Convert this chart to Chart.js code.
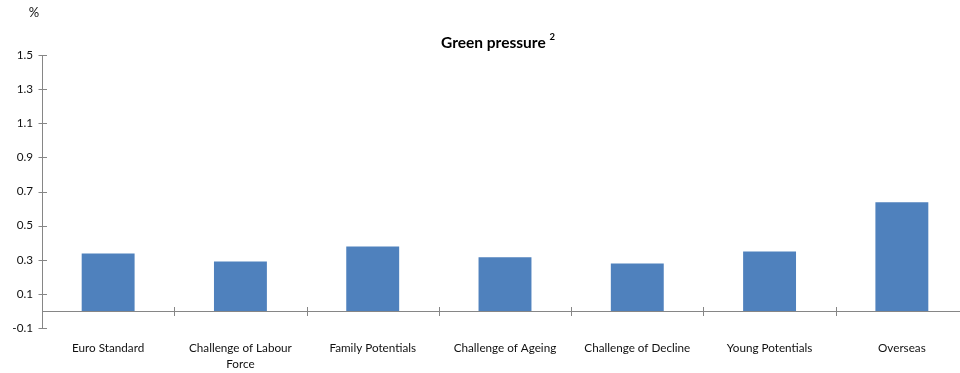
<!DOCTYPE html>
<html>
<head>
<meta charset="utf-8">
<script src="https://cdn.jsdelivr.net/npm/chart.js@4"></script>
<style>
  html, body { margin: 0; padding: 0; background: #fff; overflow: hidden; width: 960px; height: 373px; }
  #wrap { position: relative; width: 996px; height: 373px; }
</style>
</head>
<body>
<div id="wrap"><canvas id="c" width="996" height="373"></canvas></div>
<script>
// Scenario categories (multi-line where the label wraps)
const categories = [
  'Euro Standard',
  ['Challenge of Labour', 'Force'],
  'Family Potentials',
  'Challenge of Ageing',
  'Challenge of Decline',
  'Young Potentials',
  'Overseas'
];
// Green pressure, %
const greenPressure = [0.337, 0.29, 0.378, 0.314, 0.278, 0.349, 0.637];
const yMin = -0.1, yMax = 1.5, yStep = 0.2;
const chartTitle = 'Green pressure';
const titleNote = '2';
const unitLabel = '%';

const axisGrey = '#868686';
const textColor = '#111';
const fontFamily = 'Lato, "Open Sans", sans-serif';

// Axis line at zero with crossing tick marks, y-axis crossing ticks, title and unit
const decorations = {
  id: 'decorations',
  afterDatasetsDraw(chart) {
    const { ctx, scales: { x, y }, chartArea } = chart;
    ctx.save();
    ctx.strokeStyle = axisGrey;
    ctx.lineWidth = 1;
    const y0 = Math.round(y.getPixelForValue(0)) + 0.5;
    // horizontal axis line at zero
    ctx.beginPath();
    ctx.moveTo(chartArea.left, y0);
    ctx.lineTo(chartArea.right, y0);
    ctx.stroke();
    // category boundary ticks
    const n = chart.data.labels.length;
    const half = (x.getPixelForTick(1) - x.getPixelForTick(0)) / 2;
    for (let i = 0; i <= n; i++) {
      const px = Math.round(x.getPixelForTick(0) - half + i * 2 * half) + 0.5;
      ctx.beginPath();
      ctx.moveTo(px, y0 - 4.5);
      ctx.lineTo(px, y0 + 4.5);
      ctx.stroke();
    }
    // y ticks crossing the vertical axis
    const ax = Math.round(chartArea.left) + 0.5;
    y.ticks.forEach(t => {
      const py = Math.round(y.getPixelForValue(t.value)) + 0.5;
      ctx.beginPath();
      ctx.moveTo(ax - 4, py);
      ctx.lineTo(ax + 4.5, py);
      ctx.stroke();
    });
    ctx.restore();
  },
  afterDraw(chart) {
    const { ctx } = chart;
    ctx.save();
    ctx.fillStyle = '#000';
    ctx.textBaseline = 'middle';
    // title with raised note number
    ctx.font = 'bold 15.5px ' + fontFamily;
    const w1 = ctx.measureText(chartTitle + ' ').width;
    ctx.font = 'bold 9.5px ' + fontFamily;
    const w2 = ctx.measureText(titleNote).width;
    const cx = 498;
    const start = cx - (w1 + w2) / 2;
    ctx.textAlign = 'left';
    ctx.font = 'bold 15.5px ' + fontFamily;
    ctx.fillText(chartTitle, start, 42.5);
    ctx.font = 'bold 9.5px ' + fontFamily;
    ctx.fillText(titleNote, start + w1, 37);
    // unit label
    ctx.font = '13px ' + fontFamily;
    ctx.textAlign = 'center';
    ctx.fillStyle = textColor;
    ctx.fillText(unitLabel, 34, 12.5);
    ctx.restore();
  }
};

new Chart(document.getElementById('c'), {
  type: 'bar',
  data: {
    labels: categories,
    datasets: [{
      data: greenPressure,
      backgroundColor: '#4F81BD',
      borderWidth: 0,
      categoryPercentage: 1,
      barPercentage: 0.4
    }]
  },
  options: {
    responsive: false,
    animation: false,
    devicePixelRatio: 1,
    layout: { padding: { top: 55, right: 28, left: 0, bottom: 0 } },
    plugins: {
      legend: { display: false },
      title: { display: false },
      tooltip: { enabled: false }
    },
    scales: {
      x: {
        position: 'bottom',
        grid: { display: false, drawTicks: false },
        border: { display: false },
        ticks: {
          color: textColor,
          font: { family: fontFamily, size: 11.7, lineHeight: 1.37 },
          padding: 12,
          maxRotation: 0,
          autoSkip: false
        },
        afterFit(scale) { scale.height = 45; }
      },
      y: {
        min: yMin,
        max: yMax,
        grid: { display: false, drawTicks: false },
        border: { display: true, color: axisGrey, width: 1 },
        ticks: {
          stepSize: yStep,
          color: textColor,
          font: { family: fontFamily, size: 11.7 },
          padding: 9,
          callback: v => (Math.round(v * 10) / 10).toFixed(1)
        },
        afterFit(scale) { scale.width = 42; }
      }
    }
  },
  plugins: [decorations]
});
</script>
</body>
</html>
